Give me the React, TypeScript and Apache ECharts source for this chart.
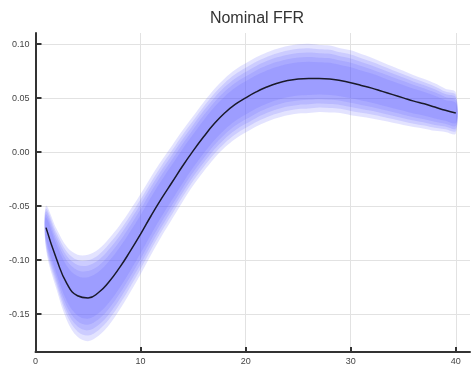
import React, { useEffect, useRef } from "react";
import * as echarts from "echarts";

const TITLE = "Nominal FFR";
const xValues = [
  1, 2, 3, 4, 5, 6, 7, 8, 9, 10, 11, 12, 13, 14, 15, 16, 17, 18, 19, 20,
  21, 22, 23, 24, 25, 26, 27, 28, 29, 30, 31, 32, 33, 34, 35, 36, 37, 38, 39, 40,
];
const meanValues = [
  -0.07, -0.099, -0.122, -0.133, -0.135, -0.130, -0.12, -0.107, -0.092, -0.076,
  -0.059, -0.043, -0.028, -0.013, 0.001, 0.014, 0.026, 0.036, 0.044, 0.05,
  0.0555, 0.06, 0.0635, 0.066, 0.0675, 0.068, 0.068, 0.0675, 0.066, 0.064,
  0.0615, 0.059, 0.056, 0.053, 0.05, 0.047, 0.0445, 0.0415, 0.0385, 0.036,
];
// half-width of the outermost shaded band
const halfWidths = [
  0.02, 0.028, 0.034, 0.038, 0.04, 0.04, 0.04, 0.039, 0.038, 0.037,
  0.036, 0.035, 0.034, 0.033, 0.032, 0.032, 0.032, 0.032, 0.032, 0.032,
  0.032, 0.032, 0.032, 0.032, 0.032, 0.032, 0.031, 0.031, 0.03, 0.03,
  0.029, 0.028, 0.027, 0.026, 0.025, 0.024, 0.023, 0.022, 0.02, 0.019,
];
// fraction of the outer half-width covered by each band
const bandLevels = [1.0, 0.87, 0.75, 0.62, 0.48];
const yTicks = [-0.15, -0.1, -0.05, 0, 0.05, 0.1];
const xTicks = [0, 10, 20, 30, 40];

export default function App() {
  const ref = useRef<HTMLDivElement>(null);
  useEffect(() => {
    if (!ref.current) return;
    const chart = echarts.init(ref.current, null, { renderer: "svg" });
    const series: any[] = [];
    bandLevels.forEach((f) => {
      series.push({
        type: "custom",
        silent: true,
        clip: true,
        data: xValues.map((x, j) => [x, meanValues[j] - halfWidths[j] * f, meanValues[j] + halfWidths[j] * f]),
        encode: { x: 0, y: [1, 2] },
        renderItem: (params: any, api: any) => {
          if (params.dataIndex !== 0) return null;
          const upper = xValues.map((x, j) => api.coord([x, meanValues[j] + halfWidths[j] * f]));
          const lower = xValues.map((x, j) => api.coord([x, meanValues[j] - halfWidths[j] * f]));
          return {
            type: "polygon",
            shape: { points: upper.concat(lower.reverse()), smooth: 0.35 },
            style: { fill: "rgba(100,100,255,0.18)" },
          };
        },
      });
    });
    series.push({
      type: "line",
      smooth: true,
      symbol: "none",
      lineStyle: { color: "#1a1a2a", width: 1.5 },
      data: xValues.map((x, j) => [x, meanValues[j]]),
      z: 10,
    });
    chart.setOption({
      animation: false,
      title: {
        text: TITLE,
        left: 252,
        textAlign: "center",
        top: 4,
        textStyle: {
          fontFamily: "Liberation Sans, Arial, sans-serif",
          fontSize: 16,
          fontWeight: "normal",
          color: "#333",
        },
      },
      grid: { left: 35.5, right: 1, top: 33, bottom: 23, containLabel: false },
      xAxis: {
        type: "value",
        min: 0,
        max: 41.35,
        interval: 10,
        axisLine: { show: true, onZero: false, lineStyle: { color: "#333", width: 2 } },
        axisTick: { show: true, inside: true, length: 5, lineStyle: { color: "#333", width: 2 }, customValues: xTicks },
        axisLabel: {
          customValues: xTicks,
          fontSize: 9,
          color: "#444",
          margin: 4,
          fontFamily: "Liberation Sans, Arial, sans-serif",
        },
        splitLine: { show: true, lineStyle: { color: "#e2e2e2", width: 1 } },
      },
      yAxis: {
        type: "value",
        min: -0.185,
        max: 0.11,
        axisLine: { show: true, onZero: false, lineStyle: { color: "#333", width: 2 } },
        axisTick: { show: true, inside: true, length: 6, lineStyle: { color: "#333", width: 2 }, customValues: yTicks },
        axisLabel: {
          customValues: yTicks,
          fontSize: 9,
          color: "#444",
          margin: 6,
          fontFamily: "Liberation Sans, Arial, sans-serif",
          formatter: (v: number) => v.toFixed(2),
        },
        splitLine: { show: true, lineStyle: { color: "#e2e2e2", width: 1 } },
      },
      series,
    });
    return () => chart.dispose();
  }, []);
  return (
    <div
      ref={ref}
      style={{ position: "fixed", left: 0, top: 0, width: 471, height: 375 }}
    />
  );
}
